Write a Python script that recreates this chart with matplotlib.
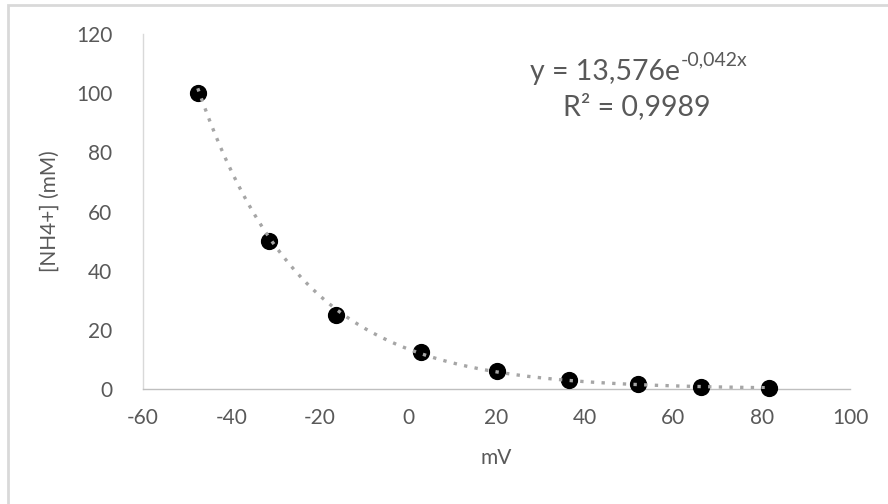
import numpy as np
import matplotlib
matplotlib.use("Agg")
import matplotlib.pyplot as plt
from matplotlib.patches import Rectangle

plt.rcParams['font.family'] = ['Lato', 'DejaVu Sans']
plt.rcParams['axes.unicode_minus'] = False

mv = [-47.6, -31.5, -16.4, 2.9, 20.2, 36.4, 52.0, 66.2, 81.6]
nh4 = [100, 50, 25, 12.5, 6.25, 3.125, 1.5625, 0.78, 0.39]
x_ticks = [-60, -40, -20, 0, 20, 40, 60, 80, 100]
y_ticks = [0, 20, 40, 60, 80, 100, 120]
eq_base = "y = 13,576e"
eq_sup = "-0,042x"
r2_text = "R² = 0,9989"

W, H = 888, 504
fig = plt.figure(figsize=(W / 100, H / 100), dpi=100)

# outer chart border (light gray)
fig.add_artist(Rectangle((8 / W, -0.1), 1.2, 1 - 5 / H + 0.1, transform=fig.transFigure,
                         fill=False, edgecolor='#D9D9D9', linewidth=2.0))

ax = fig.add_axes([143 / W, 1 - 389 / H, (850 - 143) / W, (389 - 34) / H])
ax.set_xlim(-60, 100)
ax.set_ylim(0, 120)
ax.set_xticks(x_ticks)
ax.set_yticks(y_ticks)
ax.tick_params(axis='both', length=0, labelsize=15, colors='#595959')
ax.tick_params(axis='x', pad=14)
ax.tick_params(axis='y', pad=22)
for s in ['top', 'right']:
    ax.spines[s].set_visible(False)
ax.spines['left'].set_color('#D9D9D9')
ax.spines['bottom'].set_color('#BFBFBF')
ax.spines['left'].set_linewidth(1.0)
ax.spines['bottom'].set_linewidth(1.0)

ax.scatter(mv, nh4, s=130, color='black', zorder=3, clip_on=False)

# exponential trendline fitted from data
xarr = np.array(mv)
b, a = np.polyfit(xarr, np.log(np.array(nh4)), 1)
xs = np.linspace(xarr.min(), xarr.max(), 300)
ax.plot(xs, np.exp(a) * np.exp(b * xs), linestyle=(0, (1, 2.2)), color='#A6A6A6',
        linewidth=2.4, zorder=4)

ax.set_xlabel('mV', fontsize=15, color='#595959', labelpad=14)
ax.set_ylabel('[NH4+] (mM)', fontsize=15, color='#595959', labelpad=12)

t1 = fig.text(530 / W, 1 - 72 / H, eq_base, fontsize=20.5, color='#595959', ha='left', va='center')
fig.canvas.draw()
bb = t1.get_window_extent()
fig.text(bb.x1 / W + 1 / W, 1 - 60 / H, eq_sup, fontsize=14, color='#595959', ha='left', va='center')
fig.text(637 / W, 1 - 107 / H, r2_text, fontsize=20.5, color='#595959', ha='center', va='center')

fig.savefig('out.png', dpi=100)
